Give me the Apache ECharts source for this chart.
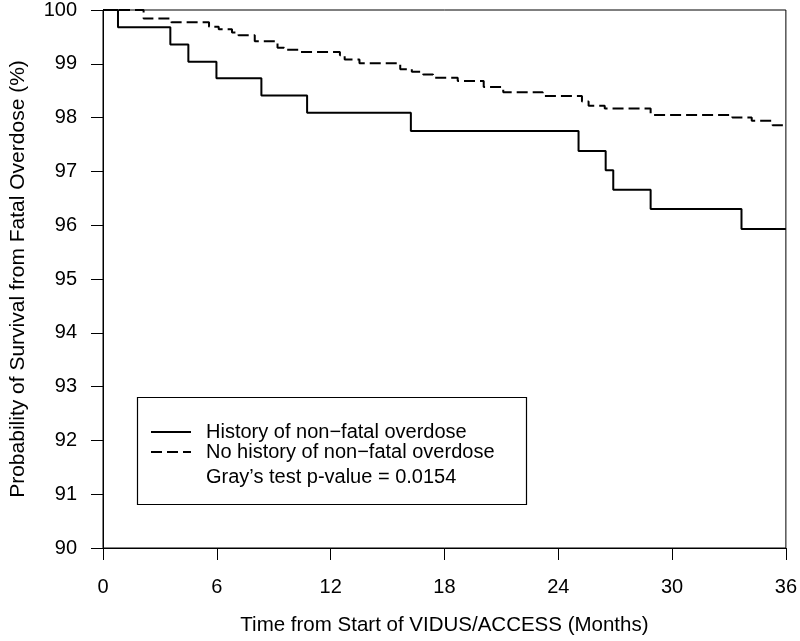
<!DOCTYPE html>
<html>
<head>
<meta charset="utf-8">
<script src="https://cdn.jsdelivr.net/npm/echarts@6/dist/echarts.min.js"></script>
<style>html,body{margin:0;padding:0;background:#fff}#c{width:800px;height:641px}</style>
</head>
<body>
<div id="c"></div>
<script>
// Data (months, survival %)
var historyTimes  = [0, 0.79, 3.55, 4.5, 5.98, 8.35, 10.76, 16.23, 25.07, 26.5, 26.9, 28.87, 33.66, 36];
var historyValues = [100, 99.68, 99.36, 99.04, 98.73, 98.41, 98.09, 97.75, 97.38, 97.02, 96.66, 96.30, 95.93, 95.93];
var noHistTimes   = [0, 2.14, 3.6, 5.59, 6.1, 6.8, 7.14, 8.0, 9.2, 9.55, 10.33, 12.49, 12.74, 13.52, 15.67, 16.28, 16.88, 17.4, 18.7, 20.07, 21.1, 23.18, 25.25, 25.6, 26.45, 28.87, 33.18, 34.2, 35.3, 36];
var noHistValues  = [100, 99.84, 99.77, 99.69, 99.64, 99.58, 99.53, 99.42, 99.30, 99.26, 99.22, 99.16, 99.08, 99.01, 98.90, 98.85, 98.80, 98.74, 98.68, 98.57, 98.47, 98.40, 98.30, 98.22, 98.17, 98.05, 98.00, 97.94, 97.86, 97.86];
var xTicks = [0, 6, 12, 18, 24, 30, 36];
var yTicks = [90, 91, 92, 93, 94, 95, 96, 97, 98, 99, 100];
var seriesNames = ['History of non\u2212fatal overdose', 'No history of non\u2212fatal overdose'];
var testLabel = 'Gray\u2019s test p-value = 0.0154';

function pairs(t, v) { return t.map(function (x, i) { return [x, v[i]]; }); }

var FONT = 'Liberation Sans, Arial, sans-serif';
var FS = 20;
var chart = echarts.init(document.getElementById('c'), null, { renderer: 'canvas' });
chart.setOption({
  animation: false,
  backgroundColor: '#fff',
  textStyle: { fontFamily: FONT },
  grid: { left: 92, top: 7, right: 12, bottom: 90, show: true, borderColor: '#000', borderWidth: 1, containLabel: false },
  xAxis: {
    type: 'value', min: xTicks[0], max: xTicks[xTicks.length - 1], interval: 6,
    name: 'Time from Start of VIDUS/ACCESS (Months)', nameLocation: 'middle', nameGap: 67,
    nameTextStyle: { color: '#000', fontSize: 20.5, fontFamily: FONT },
    axisLine: { show: true, lineStyle: { color: '#000', width: 1 } },
    axisTick: { show: true, inside: false, length: 12, lineStyle: { color: '#000', width: 1 } },
    axisLabel: { color: '#000', fontSize: FS, margin: 29, fontFamily: FONT, showMinLabel: true, showMaxLabel: true },
    splitLine: { show: false }
  },
  yAxis: {
    type: 'value', min: yTicks[0], max: yTicks[yTicks.length - 1], interval: 1,
    name: 'Probability of Survival from Fatal Overdose (%)', nameLocation: 'middle', nameGap: 74,
    nameTextStyle: { color: '#000', fontSize: 21, fontFamily: FONT },
    axisLine: { show: true, lineStyle: { color: '#000', width: 1 } },
    axisTick: { show: true, inside: false, length: 12, lineStyle: { color: '#000', width: 1 } },
    axisLabel: { color: '#000', fontSize: FS, margin: 26, fontFamily: FONT, showMinLabel: true, showMaxLabel: true },
    splitLine: { show: false }
  },
  legend: {
    show: true, orient: 'vertical', left: 145, top: 417,
    itemWidth: 40, itemHeight: 14, itemGap: 0,
    data: seriesNames,
    itemStyle: { color: 'rgba(0,0,0,0)', borderWidth: 0, opacity: 0 },
    textStyle: { color: '#000', fontSize: FS, fontFamily: FONT, padding: [0, 0, 0, 10] },
    selectedMode: false
  },
  graphic: [
    { type: 'rect', shape: { x: 137.5, y: 397.5, width: 389, height: 107 }, style: { fill: 'none', stroke: '#000', lineWidth: 1.2 }, z: 10 },
    { type: 'text', left: 206, top: 467, style: { text: testLabel, fill: '#000', font: FS + 'px ' + FONT }, z: 10 }
  ],
  series: [
    {
      name: seriesNames[0], type: 'line', step: 'end', symbol: 'none',
      data: pairs(historyTimes, historyValues),
      lineStyle: { color: '#000', width: 2, type: 'solid' }, itemStyle: { color: '#000' }, z: 5
    },
    {
      name: seriesNames[1], type: 'line', step: 'end', symbol: 'none',
      data: pairs(noHistTimes, noHistValues),
      lineStyle: { color: '#000', width: 2, type: [11, 5] }, itemStyle: { color: '#000' }, z: 5
    }
  ]
});
</script>
</body>
</html>
